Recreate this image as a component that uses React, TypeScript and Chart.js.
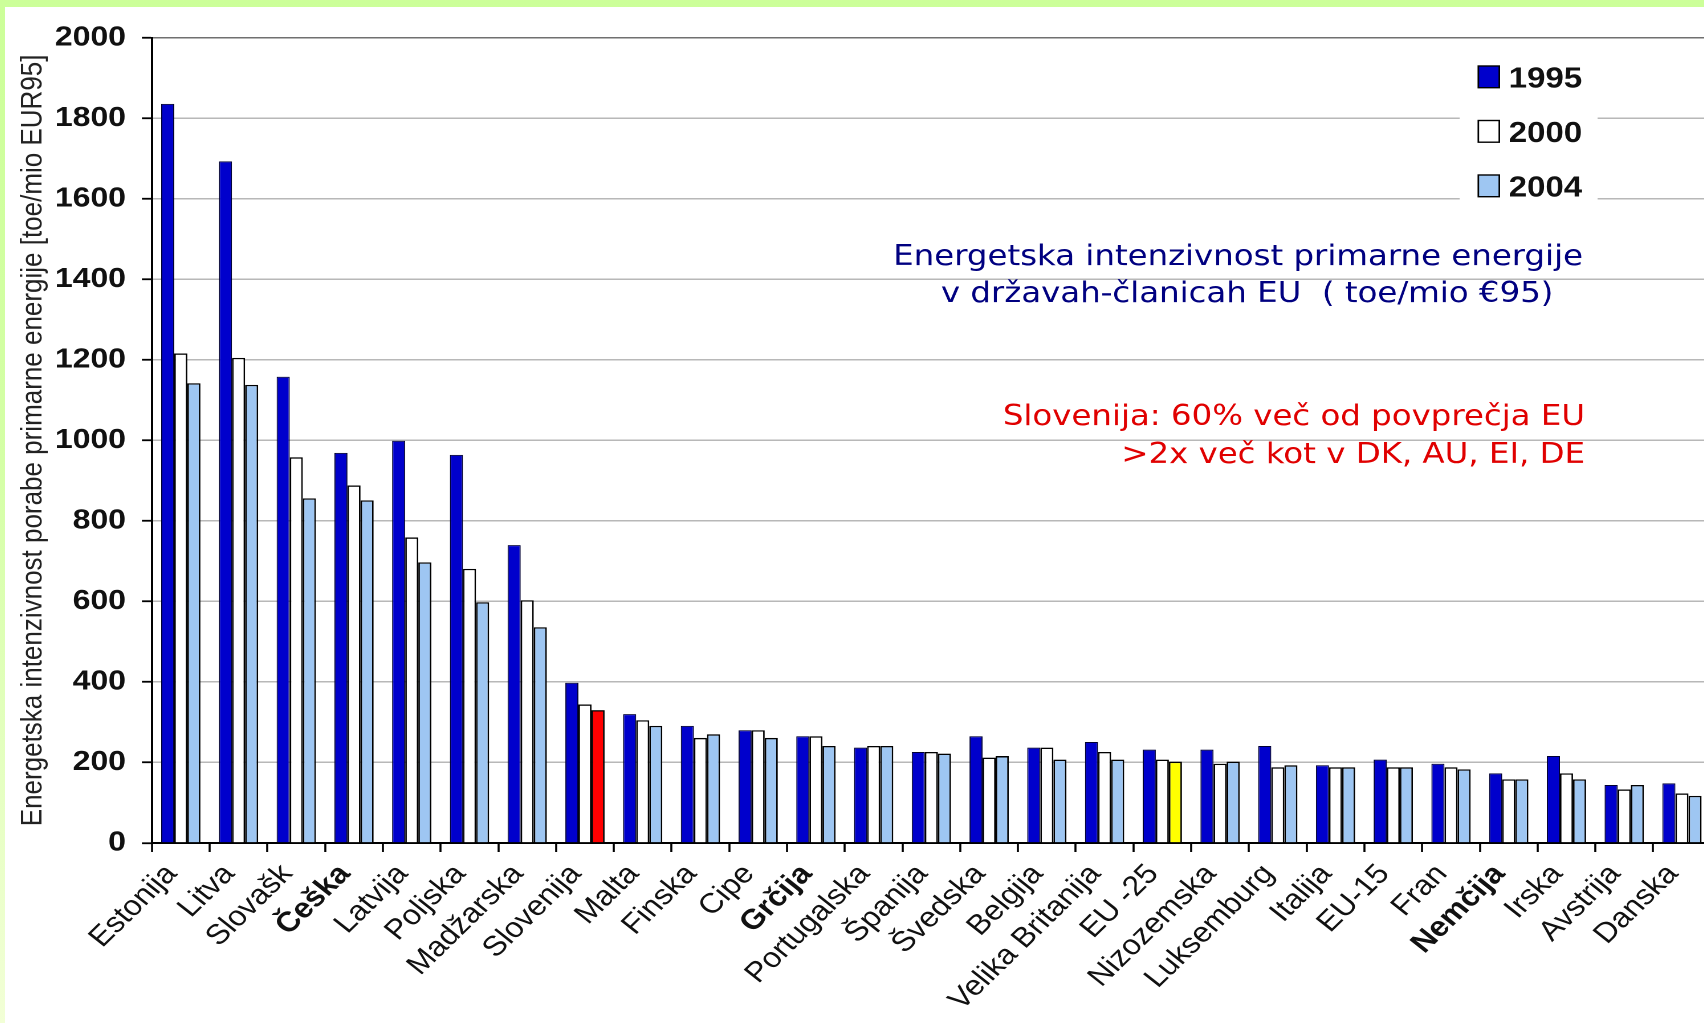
import React, { useEffect, useRef } from 'react';
import { Chart, registerables } from 'chart.js';

Chart.register(...registerables);

// ---------- data ----------
const categories = [
  'Estonija', 'Litva', 'Slovašk', 'Češka', 'Latvija', 'Poljska', 'Madžarska', 'Slovenija',
  'Malta', 'Finska', 'Cipe', 'Grčija', 'Portugalska', 'Španija', 'Švedska', 'Belgija',
  'Velika Britanija', 'EU -25', 'Nizozemska', 'Luksemburg', 'Italija', 'EU-15', 'Fran',
  'Nemčija', 'Irska', 'Avstrija', 'Danska',
];
const seriesLabels = ['1995', '2000', '2004'];
const values1995 = [1836, 1693, 1158, 969, 999, 964, 740, 398, 320, 291, 280, 265, 237, 226, 265, 237, 251, 232, 232, 241, 193, 207, 197, 173, 216, 144, 148];
const values2000 = [1216, 1205, 958, 888, 759, 681, 603, 344, 305, 261, 280, 265, 241, 226, 212, 237, 226, 207, 197, 188, 188, 188, 188, 158, 173, 133, 123];
const values2004 = [1142, 1138, 856, 851, 697, 598, 536, 330, 291, 270, 261, 241, 241, 222, 216, 207, 207, 202, 202, 193, 188, 188, 183, 158, 158, 144, 117];
const yTicks = [0, 200, 400, 600, 800, 1000, 1200, 1400, 1600, 1800, 2000];
const yTitle = 'Energetska intenzivnost porabe primarne energije [toe/mio EUR95]';
const noteLines = ['Energetska intenzivnost primarne energije', 'v državah-članicah EU  ( toe/mio €95)'];
const highlightLines = ['Slovenija: 60% več od povprečja EU', '>2x več kot v DK, AU, EI, DE'];
const boldCategories = ['Češka', 'Grčija', 'Nemčija'];
const redCategory = 'Slovenija';
const yellowCategory = 'EU -25';

// ---------- styles ----------
const STRETCH = 1.14;
const CW = 1502;
const CH = 1016;
const C1995 = '#0000CC';
const C2000 = '#FFFFFF';
const C2004 = '#9EC6F2';
const seriesColors = [C1995, C2000, C2004];
const FONT = '"Liberation Sans", Arial, sans-serif';

const overlayPlugin = {
  id: 'overlay',
  afterDraw(chart: any) {
    const ctx = chart.ctx;
    ctx.save();
    // legend
    ctx.fillStyle = '#ffffff';
    ctx.fillRect(1276, 42, 121, 160);
    chart.data.datasets.forEach((ds: any, i: number) => {
      const top = 59 + i * 54.5;
      ctx.fillStyle = seriesColors[i];
      ctx.fillRect(1292.4, top, 18.4, 21.7);
      ctx.lineWidth = 1.4;
      ctx.strokeStyle = '#000';
      ctx.strokeRect(1292.4, top, 18.4, 21.7);
      ctx.fillStyle = '#111';
      ctx.font = `bold 29px ${FONT}`;
      ctx.textAlign = 'left';
      ctx.textBaseline = 'alphabetic';
      ctx.fillText(ds.label, 1319, top + 21.7);
    });
    // notes
    const fam = '"DejaVu Sans", sans-serif';
    ctx.font = `100px ${fam}`;
    const w = ctx.measureText(noteLines[0]).width;
    const size = (100 * 605.3) / w;
    ctx.font = `${size}px ${fam}`;
    ctx.fillStyle = '#000080';
    ctx.textAlign = 'right';
    ctx.fillText(noteLines[0], 1384.2, 258);
    ctx.textAlign = 'left';
    ctx.fillText(noteLines[1], 821, 295);
    ctx.fillStyle = '#E00000';
    ctx.textAlign = 'right';
    ctx.fillText(highlightLines[0], 1386, 418);
    ctx.fillText(highlightLines[1], 1386, 456);
    ctx.restore();
  },
};

export default function App() {
  const ref = useRef<HTMLCanvasElement | null>(null);

  useEffect(() => {
    if (!ref.current) return;
    const chart = new Chart(ref.current, {
      type: 'bar',
      data: {
        labels: categories,
        datasets: [
          {
            label: seriesLabels[0],
            data: values1995,
            backgroundColor: C1995,
            borderColor: '#000033',
            borderWidth: 1,
          },
          {
            label: seriesLabels[1],
            data: values2000,
            backgroundColor: C2000,
            borderColor: '#000',
            borderWidth: 1.4,
          },
          {
            label: seriesLabels[2],
            data: values2004,
            backgroundColor: (c: any) => {
              const name = categories[c.dataIndex];
              if (name === redCategory) return '#FF0000';
              if (name === yellowCategory) return '#FFFF00';
              return C2004;
            },
            borderColor: '#000',
            borderWidth: 1.4,
          },
        ],
      },
      options: {
        responsive: false,
        maintainAspectRatio: false,
        animation: false,
        devicePixelRatio: 2,
        layout: { padding: { top: 29, left: 0, right: 0, bottom: 0 } },
        datasets: {
          bar: { categoryPercentage: 0.68, barPercentage: 1.0 },
        },
        plugins: {
          legend: { display: false },
          tooltip: { enabled: false },
          title: { display: false },
        },
        scales: {
          x: {
            offset: true,
            grid: {
              display: true,
              offset: true,
              drawOnChartArea: false,
              drawTicks: true,
              tickLength: 9,
              tickColor: '#000',
              tickWidth: 1.8,
            },
            border: { display: true, color: '#000', width: 2 },
            ticks: {
              autoSkip: false,
              minRotation: 48,
              maxRotation: 48,
              padding: 6,
              labelOffset: -8,
              color: '#111',
              font: (c: any) => ({
                family: FONT,
                size: 28,
                weight: boldCategories.includes(categories[c.index]) ? 'bold' : 'normal',
              }),
            },
            afterFit: (s: any) => {
              s.height = CH - 836;
            },
          },
          y: {
            min: 0,
            max: 2000,
            afterBuildTicks: (s: any) => {
              s.ticks = yTicks.map((v) => ({ value: v }));
            },
            grid: {
              color: (c: any) => (c.tick && c.tick.value === 2000 ? '#707070' : '#b8b8b8'),
              lineWidth: 1.5,
              tickColor: '#000',
              tickLength: 8.8,
              tickWidth: 1.8,
            },
            border: { display: true, color: '#000', width: 2 },
            ticks: {
              padding: 14,
              color: '#111',
              callback: (v: any) => String(v),
              font: { family: FONT, size: 28, weight: 'bold' },
            },
            title: {
              display: true,
              text: yTitle,
              color: '#222',
              font: { family: FONT, size: 26 },
              padding: { top: 9, bottom: 0 },
            },
            afterFit: (s: any) => {
              s.width = 128.9;
            },
          },
        },
      },
      plugins: [overlayPlugin],
    } as any);
    return () => chart.destroy();
  }, []);

  return (
    <div
      style={{
        position: 'fixed',
        left: 0,
        top: 0,
        width: 1704,
        height: 1023,
        overflow: 'hidden',
        background: 'linear-gradient(to bottom, #ccff99 0%, #d4ffa6 45%, #f2ffd6 100%)',
      }}
    >
      <canvas
        ref={ref}
        width={CW}
        height={CH}
        style={{
          position: 'absolute',
          left: 5,
          top: 7,
          width: CW,
          height: CH,
          background: '#ffffff',
          transform: `scaleX(${STRETCH})`,
          transformOrigin: '0 0',
        }}
      />
    </div>
  );
}
